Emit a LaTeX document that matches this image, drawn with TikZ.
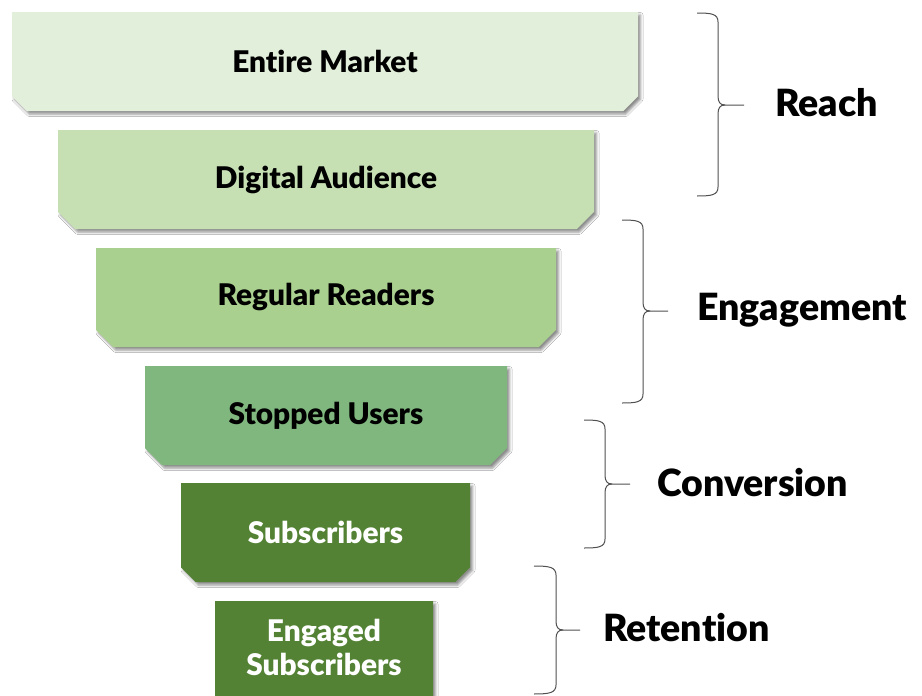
\documentclass[tikz,border=0pt]{standalone}
\usepackage{fontspec}
\setmainfont{Lato}[Ligatures=NoCommon, BoldFont={Lato Black}]
\usetikzlibrary{shapes.misc,shadows.blur}
\definecolor{c1}{HTML}{E2EFDA}
\definecolor{c2}{HTML}{C6E0B4}
\definecolor{c3}{HTML}{A9D08E}
\definecolor{c4}{HTML}{7FB77E}
\definecolor{c5}{HTML}{548235}
\definecolor{bracegray}{HTML}{505050}
\tikzset{
  stage/.style={chamfered rectangle, chamfered rectangle corners={south east,south west},
    chamfered rectangle xsep=17pt, chamfered rectangle angle=45,
    inner sep=0pt, minimum height=99pt, draw=none,
    blur shadow={shadow xshift=2.5pt, shadow yshift=-3pt, shadow blur radius=2.5pt, shadow opacity=45},
    font=\fontsize{29.8}{34}\selectfont\bfseries, align=center},
  stagetext/.style={font=\fontsize{29.8}{34}\selectfont\bfseries, align=center, inner sep=0pt},
  phase/.style={font=\fontsize{37.5}{40}\selectfont\bfseries, anchor=west, inner sep=0pt},
  bracestyle/.style={draw=bracegray, line width=1pt}
}
\begin{document}
\begin{tikzpicture}[x=1pt,y=-1pt]
\useasboundingbox (0,0) rectangle (922,696);
\fill[white] (0,0) rectangle (922,696);
\node[stage, fill=c1, minimum width=626pt, text=black] (s1) at (325,61.5) {Entire Market};
\node[stage, fill=c2, minimum width=536pt, text=black] (s2) at (326,179.5) {Digital Audience};
\node[stage, fill=c3, minimum width=460pt, text=black] (s3) at (326,297.5) {Regular Readers};
\node[stage, fill=c4, minimum width=362pt, text=black] (s4) at (326,415.5) {Stopped Users};
\node[stage, fill=c5, minimum width=289pt, text=white] (s5) at (325.5,532.5) {Subscribers};
\node[stage, fill=c5, minimum width=218pt] (s6) at (324,650.5) {};
\node[stagetext, text=white] (s6t) at (324,647) {Engaged\\Subscribers};

% braces
\coordinate (b1t) at (697,13);
\coordinate (b1m) at (744,105);
\coordinate (b1b) at (697,196);
\draw[bracestyle] (b1t) .. controls (712,13) and (718,14) .. (718,22) -- (718,96)
  .. controls (718,102) and (720,105) .. (725,105) -- (b1m);
\draw[bracestyle] (b1b) .. controls (712,196) and (718,195) .. (718,187) -- (718,114)
  .. controls (718,108) and (720,105) .. (725,105);
\node[phase] (reach) at (775,103) {Reach};

\coordinate (b2t) at (622,220);
\coordinate (b2m) at (668,311);
\coordinate (b2b) at (622,403);
\draw[bracestyle] (b2t) .. controls (637,220) and (643,221) .. (643,229) -- (643,302)
  .. controls (643,308) and (645,311) .. (650,311) -- (b2m);
\draw[bracestyle] (b2b) .. controls (637,403) and (643,402) .. (643,394) -- (643,320)
  .. controls (643,314) and (645,311) .. (650,311);
\node[phase] (engagement) at (697,310) {Engagement};

\coordinate (b3t) at (584,420);
\coordinate (b3m) at (630,484);
\coordinate (b3b) at (584,548);
\draw[bracestyle] (b3t) .. controls (599,420) and (605,421) .. (605,429) -- (605,475)
  .. controls (605,481) and (607,484) .. (612,484) -- (b3m);
\draw[bracestyle] (b3b) .. controls (599,548) and (605,547) .. (605,539) -- (605,493)
  .. controls (605,487) and (607,484) .. (612,484);
\node[phase] (conversion) at (657,483) {Conversion};

\coordinate (b4t) at (534,566);
\coordinate (b4m) at (580,630);
\coordinate (b4b) at (534,694);
\draw[bracestyle] (b4t) .. controls (549,566) and (556,567) .. (556,575) -- (556,621)
  .. controls (556,627) and (558,630) .. (563,630) -- (b4m);
\draw[bracestyle] (b4b) .. controls (549,694) and (556,693) .. (556,685) -- (556,639)
  .. controls (556,633) and (558,630) .. (563,630);
\node[phase] (retention) at (603,628) {Retention};
\end{tikzpicture}
\end{document}
